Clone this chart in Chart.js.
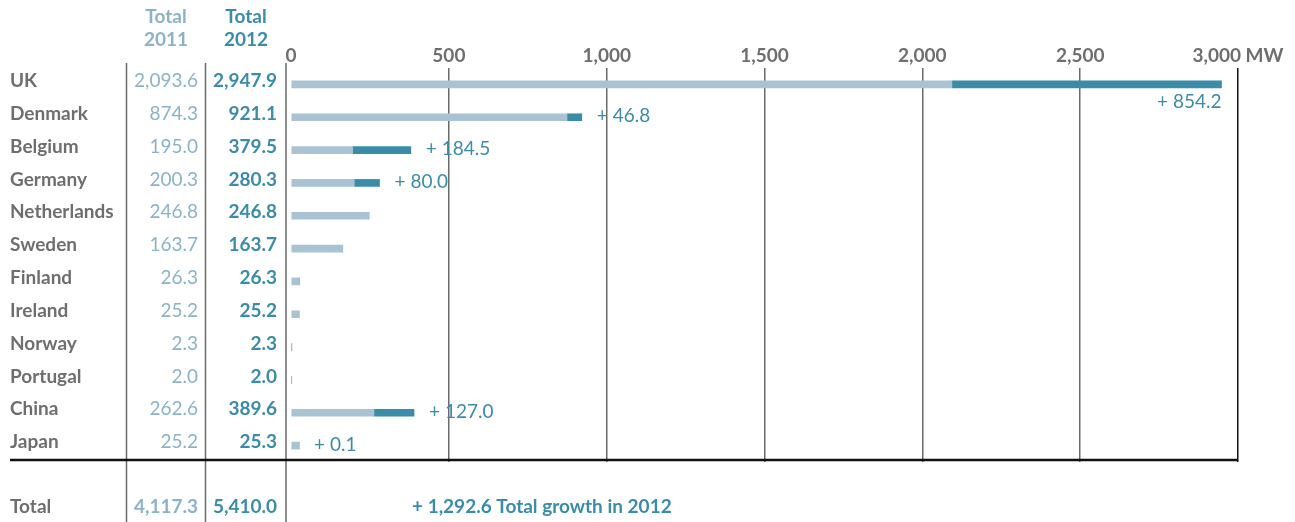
<!DOCTYPE html>
<html>
<head>
<meta charset="utf-8">
<script src="https://cdn.jsdelivr.net/npm/chart.js@4/dist/chart.umd.min.js"></script>
<style>
  body { margin: 0; background: #fff; }
</style>
</head>
<body>
<canvas id="myChart" width="1295" height="522"></canvas>
<script>
const categories = ['UK', 'Denmark', 'Belgium', 'Germany', 'Netherlands', 'Sweden', 'Finland', 'Ireland', 'Norway', 'Portugal', 'China', 'Japan'];
const total2011 = [2093.6, 874.3, 195.0, 200.3, 246.8, 163.7, 26.3, 25.2, 2.3, 2.0, 262.6, 25.2];
const total2012 = [2947.9, 921.1, 379.5, 280.3, 246.8, 163.7, 26.3, 25.2, 2.3, 2.0, 389.6, 25.3];
const growth = [854.2, 46.8, 184.5, 80.0, 0, 0, 0, 0, 0, 0, 127.0, 0.1];
const xTicks = [0, 500, 1000, 1500, 2000, 2500, 3000];
const sum2011 = 4117.3;
const sum2012 = 5410.0;
const sumGrowth = 1292.6;

const LIGHT = '#a9c3d2';
const DARK = '#3a8ca9';
const LIGHT_TEXT = '#8ab3c7';
const GRAY = '#6e6e6e';
const FONT = 'Lato';
const SIZE = 19;

const fmt = v => v.toLocaleString('en-US', {minimumFractionDigits: 1, maximumFractionDigits: 1});

// left table, separators, growth labels and total row
const tablePlugin = {
  id: 'table',
  afterDraw(chart) {
    const ctx = chart.ctx;
    const xS = chart.scales.x;
    const yS = chart.scales.y;
    const area = chart.chartArea;
    ctx.save();

    function text(str, x, y, align, weight, color) {
      ctx.font = weight + ' ' + SIZE + 'px ' + FONT;
      ctx.fillStyle = color;
      ctx.textAlign = align;
      ctx.textBaseline = 'middle';
      ctx.fillText(str, x, y);
    }

    text('Total', 166, 17, 'center', 'bold', LIGHT_TEXT);
    text('2011', 166, 40, 'center', 'bold', LIGHT_TEXT);
    text('Total', 246, 17, 'center', 'bold', DARK);
    text('2012', 246, 40, 'center', 'bold', DARK);

    categories.forEach((c, i) => {
      const y = yS.getPixelForValue(i) - 3.5;
      text(c, 10, y, 'left', 'bold', GRAY);
      text(fmt(total2011[i]), 198, y, 'right', 'normal', LIGHT_TEXT);
      text(fmt(total2012[i]), 277, y, 'right', 'bold', DARK);
    });

    // growth labels
    categories.forEach((c, i) => {
      if (!growth[i]) return;
      const y = yS.getPixelForValue(i);
      const end = xS.getPixelForValue(total2011[i] + growth[i]);
      const label = '+ ' + fmt(growth[i]);
      ctx.font = 'normal ' + SIZE + 'px ' + FONT;
      const w = ctx.measureText(label).width;
      if (end + 14 + w > area.right) {
        text(label, end, y + 17, 'right', 'normal', DARK);
      } else {
        text(label, end + 15, y - 1, 'left', 'normal', DARK);
      }
    });

    // column separators
    ctx.strokeStyle = '#6a6a6a';
    ctx.lineWidth = 1.5;
    [126.5, 205.5, area.left].forEach(x => {
      ctx.beginPath();
      ctx.moveTo(x, 63);
      ctx.lineTo(x, 522);
      ctx.stroke();
    });

    // baseline under the rows
    ctx.strokeStyle = '#111';
    ctx.lineWidth = 2.5;
    ctx.beginPath();
    ctx.moveTo(10, 460);
    ctx.lineTo(area.right, 460);
    ctx.stroke();

    // total row
    const ty = 507;
    text('Total', 10, ty, 'left', 'bold', GRAY);
    text(fmt(sum2011), 198, ty, 'right', 'bold', LIGHT_TEXT);
    text(fmt(sum2012), 277, ty, 'right', 'bold', DARK);
    text('+ ' + fmt(sumGrowth) + ' Total growth in 2012', 412, ty, 'left', 'bold', DARK);

    ctx.restore();
  }
};

const data = {
  labels: categories,
  datasets: [{
    label: 'Total 2011',
    data: total2011,
    backgroundColor: LIGHT,
    barThickness: 7,
  }, {
    label: 'Growth 2012',
    data: growth,
    backgroundColor: DARK,
    barThickness: 7,
  }]
};

const config = {
  type: 'bar',
  data: data,
  options: {
    indexAxis: 'y',
    responsive: false,
    animation: false,
    layout: {padding: {left: 286, right: 57, top: 40, bottom: 60}},
    plugins: {
      legend: {display: false},
      tooltip: {enabled: false}
    },
    scales: {
      x: {
        position: 'top',
        stacked: true,
        min: -16,
        max: 3000,
        afterBuildTicks: scale => {
          scale.ticks = xTicks.map(v => ({value: v}));
        },
        afterFit: scale => { scale.height = 28; },
        ticks: {
          color: GRAY,
          font: {family: FONT, size: SIZE, weight: 'bold'},
          padding: 1,
          maxRotation: 0,
          autoSkip: false,
          callback: v => v === 3000 ? '3,000 MW' : v.toLocaleString('en-US')
        },
        grid: {
          drawTicks: false,
          color: c => c.tick && c.tick.value === 0 ? 'rgba(0,0,0,0)' : (c.tick && c.tick.value === 3000 ? '#111' : '#6a6a6a'),
          lineWidth: 1.5
        },
        border: {display: false}
      },
      y: {
        stacked: true,
        display: false
      }
    }
  },
  plugins: [tablePlugin]
};

const myChart = new Chart(document.getElementById('myChart'), config);
</script>
</body>
</html>
